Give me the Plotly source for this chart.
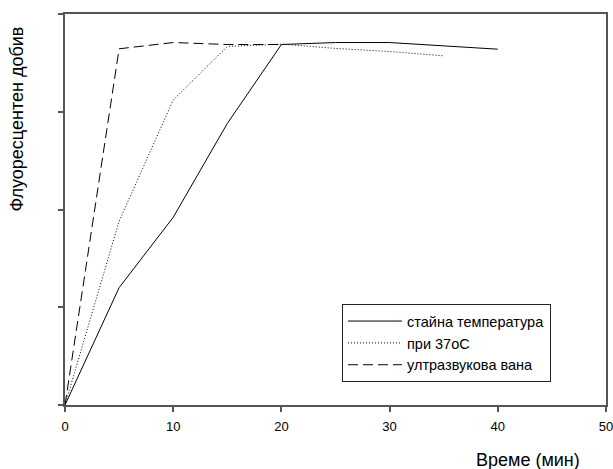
import plotly.graph_objects as go

time_room = [0, 5, 10, 15, 20, 25, 30, 40]
yield_room = [0, 30, 48, 72, 92.2, 92.7, 92.7, 91]

time_37 = [0, 5, 10, 15, 20, 25, 30, 35]
yield_37 = [0, 47, 78, 91.7, 92.3, 91.2, 90.4, 89.3]

time_us = [0, 5, 10, 15, 20]
yield_us = [0, 91.1, 92.7, 92.2, 92.2]

names = ["стайна температура", "при 37oC", "ултразвукова вана"]

fig = go.Figure()
fig.add_trace(go.Scatter(x=time_room, y=yield_room, mode="lines", name=names[0],
                         line=dict(color="black", width=1)))
fig.add_trace(go.Scatter(x=time_37, y=yield_37, mode="lines", name=names[1],
                         line=dict(color="black", width=1, dash="1px,2px")))
fig.add_trace(go.Scatter(x=time_us, y=yield_us, mode="lines", name=names[2],
                         line=dict(color="black", width=1, dash="10px,5px")))

axis_color = "#555555"
fig.update_layout(
    width=613, height=469,
    margin=dict(l=65, r=7, t=14, b=64),
    plot_bgcolor="white", paper_bgcolor="white",
    font=dict(family="Liberation Sans, Arial", size=14, color="black"),
    xaxis=dict(range=[0, 50], tickvals=[0, 10, 20, 30, 40, 50], showgrid=False, zeroline=False,
               showline=True, linecolor=axis_color, linewidth=1.5, mirror=True,
               ticks="outside", ticklen=5, tickcolor=axis_color, tickwidth=1.5,
               tickfont=dict(size=13), ticklabelstandoff=4, automargin=False,
               ticklabeloverflow="allow"),
    yaxis=dict(range=[0, 100], tickvals=[0, 25, 50, 75, 100], showgrid=False, zeroline=False,
               showline=True, linecolor=axis_color, linewidth=1.5, mirror=True,
               ticks="outside", ticklen=5, tickcolor=axis_color, tickwidth=1.5,
               showticklabels=False, automargin=False),
    legend=dict(x=0.512, y=0.258, xanchor="left", yanchor="top",
                bordercolor="#222222", borderwidth=1, bgcolor="white",
                font=dict(size=14.5), itemwidth=54),
    showlegend=True,
)
fig.add_annotation(text="Време (мин)", xref="paper", yref="paper", x=0.856, y=-0.141,
                   showarrow=False, font=dict(size=18), xanchor="center", yanchor="middle")
fig.add_annotation(text="Флуоресцентен добив", xref="paper", yref="paper", x=-0.088, y=0.731,
                   showarrow=False, textangle=-90, font=dict(size=18), xanchor="center", yanchor="middle")

fig.write_html("out.html")
